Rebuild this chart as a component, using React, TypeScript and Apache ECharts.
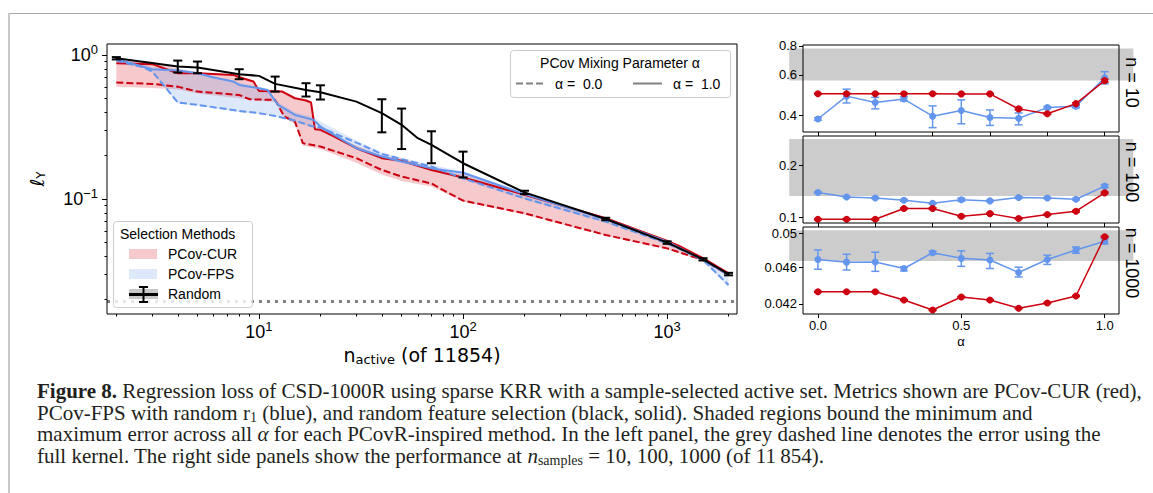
import React, { useEffect, useRef } from "react";
import * as echarts from "echarts";

const FONT = '"Liberation Sans", Arial, sans-serif';
const SERIF = '"Liberation Serif", "Times New Roman", serif';
const RED = "#cc0010";
const BLUE = "#6495ed";
const RED_BAND = "rgba(220,40,50,0.25)";
const BLUE_BAND = "rgba(100,149,237,0.22)";

// ---------- left panel data (n_active vs loss) ----------
const X_MAJOR = [10, 100, 1000];
const X_MINOR = [2, 3, 4, 5, 6, 7, 8, 9, 20, 30, 40, 50, 60, 70, 80, 90, 200, 300, 400, 500, 600, 700, 800, 900, 2000];
const Y_MAJOR = [0.1, 1];
const Y_MINOR = [0.02, 0.03, 0.04, 0.05, 0.06, 0.07, 0.08, 0.09, 0.2, 0.3, 0.4, 0.5, 0.6, 0.7, 0.8, 0.9];
const FULL_KERNEL = 0.0194;

const RANDOM_LINE: number[][] = [
  [2, 0.948], [4, 0.83], [5, 0.816], [8, 0.734], [10, 0.715], [12, 0.629], [17, 0.571], [20, 0.551],
  [30, 0.474], [40, 0.394], [50, 0.327], [60, 0.264], [70, 0.237], [100, 0.177], [200, 0.111],
  [500, 0.0726], [1000, 0.0498], [1500, 0.0381], [2000, 0.0301],
];
const RANDOM_ERR: number[][] = [
  [2, 0.93, 0.965], [4, 0.754, 0.913], [5, 0.746, 0.899], [8, 0.678, 0.795], [12, 0.556, 0.707],
  [17, 0.514, 0.636], [20, 0.49, 0.615], [40, 0.29, 0.492], [50, 0.222, 0.424], [70, 0.177, 0.295],
  [100, 0.141, 0.213], [200, 0.108, 0.114], [500, 0.0712, 0.074], [1000, 0.0488, 0.0508],
  [1500, 0.0374, 0.0388], [2000, 0.0295, 0.0307],
];
const CUR_A1: number[][] = [
  [2, 0.875], [3, 0.862], [4, 0.746], [5, 0.746], [7.5, 0.726], [8, 0.7], [9.4, 0.653], [10, 0.562],
  [13, 0.556], [15, 0.5], [17, 0.482], [18, 0.467], [18.8, 0.305], [20, 0.302], [23, 0.274], [30, 0.225],
  [40, 0.192], [50, 0.184], [70, 0.159], [100, 0.141], [200, 0.107], [500, 0.0734], [1000, 0.0512],
  [1150, 0.047], [1500, 0.0388], [2000, 0.0305],
];
const CUR_A0: number[][] = [
  [2, 0.642], [3, 0.629], [4, 0.602], [5, 0.556], [8, 0.527], [9, 0.492], [12, 0.487], [13.3, 0.373],
  [15, 0.344], [16.4, 0.244], [20, 0.231], [30, 0.192], [40, 0.159], [50, 0.143], [70, 0.128],
  [80, 0.115], [100, 0.0974], [200, 0.0795], [500, 0.0562], [1000, 0.0454], [1500, 0.0377], [2000, 0.0297],
];
const CUR_MAX: number[][] = [
  [2, 0.91], [3, 0.9], [4, 0.8], [5, 0.76], [8, 0.72], [9.4, 0.66], [10, 0.58], [13, 0.565], [15, 0.51],
  [17, 0.49], [18, 0.475], [18.8, 0.31], [20, 0.305], [30, 0.235], [40, 0.2], [50, 0.19], [70, 0.165],
  [100, 0.148], [200, 0.109], [500, 0.0745], [1000, 0.0522], [1150, 0.048], [1500, 0.0392], [2000, 0.031],
];
const CUR_MIN: number[][] = [
  [2, 0.6], [3, 0.59], [4, 0.575], [5, 0.54], [8, 0.5], [10, 0.48], [12, 0.47], [13.3, 0.37], [15, 0.33],
  [16.4, 0.235], [20, 0.222], [30, 0.178], [40, 0.148], [50, 0.133], [70, 0.122], [100, 0.096],
  [200, 0.078], [500, 0.0555], [1000, 0.0447], [1500, 0.037], [2000, 0.029],
];
const FPS_A1: number[][] = [
  [2, 0.933], [3, 0.795], [4, 0.778], [5, 0.746], [6, 0.696], [7.5, 0.653], [8, 0.619], [10, 0.587],
  [11, 0.571], [12.4, 0.45], [15, 0.383], [18.5, 0.354], [20, 0.318], [30, 0.225], [40, 0.197],
  [50, 0.182], [70, 0.163], [100, 0.152], [200, 0.108], [500, 0.0723], [1000, 0.0505], [1500, 0.0377], [2000, 0.0297],
];
const FPS_A0: number[][] = [
  [2, 0.913], [2.7, 0.821], [3, 0.766], [3.4, 0.619], [4, 0.467], [5, 0.45], [8, 0.408], [10, 0.394],
  [12, 0.377], [15, 0.35], [18, 0.321], [20, 0.313], [30, 0.246], [40, 0.205], [50, 0.189], [70, 0.168],
  [100, 0.139], [200, 0.101], [500, 0.0697], [1000, 0.0492], [1500, 0.0377], [2000, 0.0253],
];
const FPS_MAX: number[][] = [
  [2, 0.95], [3, 0.82], [4, 0.8], [5, 0.76], [8, 0.64], [10, 0.6], [11, 0.58], [12.4, 0.47], [15, 0.4],
  [18.5, 0.37], [20, 0.345], [30, 0.255], [40, 0.21], [50, 0.193], [70, 0.172], [100, 0.155],
  [200, 0.111], [500, 0.0735], [1000, 0.051], [1500, 0.0385], [2000, 0.031],
];
const FPS_MIN: number[][] = [
  [2, 0.9], [2.7, 0.81], [3, 0.76], [3.4, 0.61], [4, 0.46], [5, 0.445], [8, 0.4], [10, 0.39], [12, 0.372],
  [15, 0.345], [18, 0.315], [20, 0.305], [30, 0.22], [40, 0.19], [50, 0.178], [70, 0.158], [100, 0.136],
  [200, 0.099], [500, 0.068], [1000, 0.048], [1500, 0.037], [2000, 0.0245],
];

// ---------- right panels data (alpha) ----------
const ALPHAS = [0, 0.1, 0.2, 0.3, 0.4, 0.5, 0.6, 0.7, 0.8, 0.9, 1.0];
const ALPHA_TICKS_FINE = [0, 0.2, 0.4, 0.6, 0.8, 1.0];
const ALPHA_TICKS = [0, 0.5, 1.0];
const BAND_X = [-0.1, 1.1];

const CUR_N10 = [0.497, 0.497, 0.497, 0.497, 0.497, 0.496, 0.496, 0.427, 0.407, 0.45, 0.566];
const CUR_N10_ERR = [0.002, 0.002, 0.002, 0.002, 0.002, 0.002, 0.002, 0.004, 0.003, 0.004, 0.008];
const FPS_N10 = [0.386, 0.485, 0.455, 0.471, 0.397, 0.42, 0.392, 0.389, 0.4325, 0.438, 0.583];
const FPS_N10_LO = [0.381, 0.453, 0.427, 0.462, 0.354, 0.368, 0.362, 0.364, 0.428, 0.432, 0.548];
const FPS_N10_HI = [0.391, 0.52, 0.479, 0.482, 0.44, 0.467, 0.4225, 0.41, 0.437, 0.444, 0.619];
const RANDOM_N10 = [0.567, 0.78];
const TICKS_N10 = [0.4, 0.6, 0.8];

const CUR_N100 = [0.097, 0.097, 0.097, 0.112, 0.112, 0.101, 0.1046, 0.098, 0.1033, 0.108, 0.138];
const CUR_N100_ERR = [0.0008, 0.0008, 0.0008, 0.0008, 0.0012, 0.0008, 0.0008, 0.0008, 0.0008, 0.0012, 0.0015];
const FPS_N100 = [0.1387, 0.1307, 0.129, 0.125, 0.12, 0.126, 0.124, 0.1297, 0.129, 0.1268, 0.151];
const FPS_N100_ERR = [0.001, 0.001, 0.001, 0.0015, 0.001, 0.0025, 0.001, 0.0015, 0.001, 0.0012, 0.003];
const RANDOM_N100 = [0.1325, 0.283];
const TICKS_N100 = [0.1, 0.2];

const CUR_N1000 = [0.04328, 0.04328, 0.04328, 0.0424, 0.04137, 0.04272, 0.0424, 0.04155, 0.0421, 0.04283, 0.04961];
const CUR_N1000_ERR = [0.00005, 0.00005, 0.00005, 0.00005, 0.00005, 0.00005, 0.00005, 0.00005, 0.00005, 0.00005, 0.00005];
const FPS_N1000 = [0.04688, 0.04658, 0.0466, 0.04585, 0.04768, 0.04702, 0.04683, 0.0454, 0.04688, 0.04801, 0.04906];
const FPS_N1000_LO = [0.04577, 0.04568, 0.04553, 0.04558, 0.0475, 0.0461, 0.04585, 0.0449, 0.04632, 0.04762, 0.04873];
const FPS_N1000_HI = [0.04801, 0.0475, 0.04774, 0.04603, 0.04788, 0.0479, 0.0476, 0.046, 0.04739, 0.04836, 0.04937];
const RANDOM_N1000 = [0.04671, 0.0504];
const TICKS_N1000 = [0.042, 0.046, 0.05];

const PANEL_LABELS = ["n = 10", "n = 100", "n = 1000"];

// ---------- helpers ----------
const pairs = (xs: number[], ys: number[]) => xs.map((x, i) => [x, ys[i]]);
const errTriples = (xs: number[], lo: number[], hi: number[]) => xs.map((x, i) => [x, lo[i], hi[i]]);
const symErr = (xs: number[], v: number[], e: number[]) => xs.map((x, i) => [x, v[i] - e[i], v[i] + e[i]]);

const pow10Label = (v: number) => {
  const e = Math.round(Math.log10(v));
  return `{b|10}{s|${e < 0 ? "\u2212" + -e : e}}`;
};
const powRich = {
  b: { fontSize: 18, fontFamily: FONT, color: "#000" },
  s: { fontSize: 13, fontFamily: FONT, color: "#000", padding: [0, 0, 11, 0] },
};

// axis index of each right panel (axes 0 and 1 belong to the left panel)
const AX = (panel: number) => panel + 1;

function bandSeries(upper: number[][], lower: number[][], fill: string, z: number) {
  return {
    type: "custom",
    xAxisIndex: 0,
    yAxisIndex: 0,
    z,
    silent: true,
    clip: true,
    data: upper,
    encode: { x: 0, y: 1 },
    renderItem: (params: any, api: any) => {
      if (params.dataIndex !== 0) return { type: "group", children: [] };
      const pts = upper.map((p) => api.coord(p)).concat(lower.slice().reverse().map((p) => api.coord(p)));
      return { type: "polygon", shape: { points: pts }, style: { fill } };
    },
  };
}

function errSeries(data: number[][], color: string, idx: number, cap: number, lw: number, z: number) {
  return {
    type: "custom",
    xAxisIndex: idx,
    yAxisIndex: idx,
    z,
    silent: true,
    data,
    encode: { x: 0, y: [1, 2] },
    renderItem: (_p: any, api: any) => {
      const x = api.value(0);
      const a = api.coord([x, api.value(1)]);
      const b = api.coord([x, api.value(2)]);
      const st = { stroke: color, lineWidth: lw };
      return {
        type: "group",
        children: [
          { type: "line", shape: { x1: a[0], y1: a[1], x2: b[0], y2: b[1] }, style: st },
          { type: "line", shape: { x1: a[0] - cap, y1: a[1], x2: a[0] + cap, y2: a[1] }, style: st },
          { type: "line", shape: { x1: b[0] - cap, y1: b[1], x2: b[0] + cap, y2: b[1] }, style: st },
        ],
      };
    },
  };
}

function leftLine(data: number[][], color: string, dashed: boolean, z: number) {
  return {
    type: "line",
    xAxisIndex: 0,
    yAxisIndex: 0,
    data,
    symbol: "none",
    showSymbol: false,
    silent: true,
    clip: true,
    z,
    lineStyle: { color, width: 2, type: dashed ? [7, 3] : "solid" },
  };
}

function grayBand(idx: number, band: number[]) {
  return {
    type: "custom",
    xAxisIndex: idx,
    yAxisIndex: idx,
    z: 1,
    silent: true,
    data: [[BAND_X[0], band[0], BAND_X[1], band[1]]],
    encode: { x: [0, 2], y: [1, 3] },
    renderItem: (_p: any, api: any) => {
      const a = api.coord([api.value(0), api.value(3)]);
      const b = api.coord([api.value(2), api.value(1)]);
      return {
        type: "rect",
        shape: { x: a[0], y: a[1], width: b[0] - a[0], height: b[1] - a[1] },
        style: { fill: "#cccccc" },
      };
    },
  };
}

function rightLine(idx: number, ys: number[], color: string, z: number) {
  return {
    type: "line",
    xAxisIndex: idx,
    yAxisIndex: idx,
    data: pairs(ALPHAS, ys),
    symbol: "circle",
    symbolSize: 7,
    showSymbol: true,
    silent: true,
    z,
    itemStyle: { color },
    lineStyle: { color, width: 1.5 },
  };
}

const gridBase = { show: true, borderColor: "#000", borderWidth: 1, backgroundColor: "transparent", z: 5 };

function rightX(gridIndex: number, ticks: number[], showLabels: boolean) {
  return {
    type: "value",
    gridIndex,
    position: "bottom",
    min: -0.052,
    max: 1.05,
    z: 6,
    axisLine: { show: false, onZero: false },
    splitLine: { show: false },
    axisTick: { show: true, customValues: ticks, length: 4, lineStyle: { color: "#000" } },
    axisLabel: {
      show: showLabels,
      customValues: ticks,
      formatter: (v: number) => v.toFixed(1),
      fontSize: 13,
      fontFamily: FONT,
      color: "#000",
      margin: 5,
    },
    name: showLabels ? "α" : "",
    nameLocation: "middle",
    nameGap: 21,
    nameTextStyle: { fontSize: 13, fontFamily: FONT, color: "#000" },
  };
}

function rightY(gridIndex: number, min: number, max: number, ticks: number[]) {
  return {
    type: "log",
    logBase: 10,
    gridIndex,
    position: "left",
    min,
    max,
    z: 6,
    axisLine: { show: false, onZero: false },
    splitLine: { show: false },
    axisTick: { show: true, customValues: ticks, length: 4, lineStyle: { color: "#000" } },
    axisLabel: {
      customValues: ticks,
      formatter: (v: number) => String(v),
      fontSize: 13,
      fontFamily: FONT,
      color: "#000",
      margin: 6,
    },
  };
}

function buildOption() {
  const legend1 = [
    { type: "rect", z: 100, shape: { x: 113.5, y: 221.5, width: 139, height: 86, r: 3 }, style: { fill: "rgba(255,255,255,0.8)", stroke: "#cccccc", lineWidth: 1 } },
    { type: "text", z: 101, x: 120, y: 234, style: { text: "Selection Methods", font: `14px ${FONT}`, fill: "#000", verticalAlign: "middle" } },
    { type: "rect", z: 101, shape: { x: 129, y: 249, width: 28, height: 10 }, style: { fill: RED_BAND } },
    { type: "text", z: 101, x: 168, y: 254, style: { text: "PCov-CUR", font: `14px ${FONT}`, fill: "#000", verticalAlign: "middle" } },
    { type: "rect", z: 101, shape: { x: 129, y: 269, width: 28, height: 10 }, style: { fill: BLUE_BAND } },
    { type: "text", z: 101, x: 168, y: 274, style: { text: "PCov-FPS", font: `14px ${FONT}`, fill: "#000", verticalAlign: "middle" } },
    { type: "rect", z: 101, shape: { x: 129, y: 289, width: 29, height: 10 }, style: { fill: "#c8c8c8" } },
    { type: "line", z: 102, shape: { x1: 129, y1: 294.5, x2: 158, y2: 294.5 }, style: { stroke: "#000", lineWidth: 3 } },
    { type: "line", z: 102, shape: { x1: 143.5, y1: 287, x2: 143.5, y2: 302 }, style: { stroke: "#000", lineWidth: 2 } },
    { type: "line", z: 102, shape: { x1: 139, y1: 287, x2: 148, y2: 287 }, style: { stroke: "#000", lineWidth: 2 } },
    { type: "line", z: 102, shape: { x1: 139, y1: 302, x2: 148, y2: 302 }, style: { stroke: "#000", lineWidth: 2 } },
    { type: "text", z: 101, x: 168, y: 294, style: { text: "Random", font: `14px ${FONT}`, fill: "#000", verticalAlign: "middle" } },
  ];
  const legend2 = [
    { type: "rect", z: 100, shape: { x: 510.5, y: 50.5, width: 220, height: 47, r: 3 }, style: { fill: "rgba(255,255,255,0.8)", stroke: "#cccccc", lineWidth: 1 } },
    { type: "text", z: 101, x: 620, y: 63, style: { text: "PCov Mixing Parameter α", font: `14px ${FONT}`, fill: "#000", align: "center", verticalAlign: "middle" } },
    { type: "line", z: 101, shape: { x1: 516, y1: 83.5, x2: 544, y2: 83.5 }, style: { stroke: "#808080", lineWidth: 2, lineDash: [7, 3] } },
    { type: "text", z: 101, x: 555, y: 83.5, style: { text: "α = \u00a00.0", font: `14px ${FONT}`, fill: "#000", verticalAlign: "middle" } },
    { type: "line", z: 101, shape: { x1: 633, y1: 83.5, x2: 662, y2: 83.5 }, style: { stroke: "#808080", lineWidth: 2 } },
    { type: "text", z: 101, x: 673, y: 83.5, style: { text: "α = \u00a01.0", font: `14px ${FONT}`, fill: "#000", verticalAlign: "middle" } },
  ];
  const panelY = [82.5, 172, 263];
  const panelLabels = PANEL_LABELS.map((t, i) => ({
    type: "text",
    z: 101,
    x: 1132,
    y: panelY[i],
    rotation: -Math.PI / 2,
    style: { text: t, font: `18px ${FONT}`, fill: "#000", align: "center", verticalAlign: "middle" },
  }));
  const capRich = {
    b: { fontWeight: "bold", fontSize: 21, fontFamily: SERIF, color: "#231f20" },
    i: { fontStyle: "italic", fontSize: 21, fontFamily: SERIF, color: "#231f20" },
    sub: { fontSize: 14, fontFamily: SERIF, color: "#231f20", padding: [9, 0, 0, 0] },
  };
  const capLines = [
    "{b|Figure 8.} Regression loss of CSD-1000R using sparse KRR with a sample-selected active set. Metrics shown are PCov-CUR (red),",
    "PCov-FPS with random r{sub|1} (blue), and random feature selection (black, solid). Shaded regions bound the minimum and",
    "maximum error across all {i|α} for each PCovR-inspired method. In the left panel, the grey dashed line denotes the error using the",
    "full kernel. The right side panels show the performance at {i|n}{sub|samples} = 10, 100, 1000 (of 11\u2009854).",
  ];
  const caption = capLines.map((t, i) => ({
    type: "text",
    z: 101,
    x: 37,
    y: 391 + i * 21.7,
    style: { text: t, font: `21px ${SERIF}`, fill: "#231f20", verticalAlign: "middle", rich: capRich },
  }));
  const frame = [
    { type: "line", z: 101, shape: { x1: 8, y1: 13.5, x2: 1153, y2: 13.5 }, style: { stroke: "#a8a8a8", lineWidth: 1 } },
    { type: "line", z: 101, shape: { x1: 9, y1: 13, x2: 9, y2: 493 }, style: { stroke: "#c8c8c8", lineWidth: 2 } },
  ];

  return {
    animation: false,
    backgroundColor: "#fff",
    grid: [
      { ...gridBase, left: 107, top: 44, width: 630, height: 270 },
      { ...gridBase, left: 803, top: 45, width: 316, height: 87 },
      { ...gridBase, left: 803, top: 136, width: 316, height: 87 },
      { ...gridBase, left: 803, top: 227, width: 316, height: 87 },
    ],
    xAxis: [
      {
        type: "log",
        logBase: 10,
        gridIndex: 0,
        position: "bottom",
        min: 1.8,
        max: 2200,
        z: 6,
        axisLine: { show: false, onZero: false },
        splitLine: { show: false },
        axisTick: { show: true, customValues: X_MAJOR, length: 5, lineStyle: { color: "#000" } },
        axisLabel: { customValues: X_MAJOR, formatter: pow10Label, rich: powRich, margin: 6 },
        name: "{a|n}{s|active}{a| (of 11854)}",
        nameLocation: "middle",
        nameGap: 25,
        nameTextStyle: {
          rich: {
            a: { fontSize: 19, fontFamily: '"DejaVu Sans", sans-serif', color: "#000" },
            s: { fontSize: 13, fontFamily: '"DejaVu Sans", sans-serif', color: "#000", padding: [9, 0, 0, 0] },
          },
        },
      },
      {
        type: "log",
        logBase: 10,
        gridIndex: 0,
        position: "bottom",
        min: 1.8,
        max: 2200,
        z: 6,
        axisLine: { show: false, onZero: false },
        splitLine: { show: false },
        axisTick: { show: true, customValues: X_MINOR, length: 2.5, lineStyle: { color: "#000" } },
        axisLabel: { show: false },
      },
      rightX(1, ALPHA_TICKS_FINE, false),
      rightX(2, ALPHA_TICKS_FINE, false),
      rightX(3, ALPHA_TICKS, true),
    ],
    yAxis: [
      {
        type: "log",
        logBase: 10,
        gridIndex: 0,
        position: "left",
        min: 0.0159,
        max: 1.19,
        z: 6,
        axisLine: { show: false, onZero: false },
        splitLine: { show: false },
        axisTick: { show: true, customValues: Y_MAJOR, length: 5, lineStyle: { color: "#000" } },
        axisLabel: { customValues: Y_MAJOR, formatter: pow10Label, rich: powRich, margin: 9 },
        name: "{a|ℓ}{s|Y}",
        nameLocation: "middle",
        nameRotate: 90,
        nameGap: 60,
        nameTextStyle: {
          rich: {
            a: { fontSize: 19, fontFamily: '"DejaVu Sans", sans-serif', color: "#000" },
            s: { fontSize: 12, fontFamily: '"DejaVu Sans", sans-serif', color: "#000", padding: [8, 0, 0, 0] },
          },
        },
      },
      {
        type: "log",
        logBase: 10,
        gridIndex: 0,
        position: "left",
        min: 0.0159,
        max: 1.19,
        z: 6,
        axisLine: { show: false, onZero: false },
        splitLine: { show: false },
        axisTick: { show: true, customValues: Y_MINOR, length: 2.5, lineStyle: { color: "#000" } },
        axisLabel: { show: false },
      },
      rightY(1, 0.339, 0.808, TICKS_N10),
      rightY(2, 0.0923, 0.295, TICKS_N100),
      rightY(3, 0.04096, 0.05082, TICKS_N1000),
    ],
    series: [
      bandSeries(CUR_MAX, CUR_MIN, RED_BAND, 1),
      bandSeries(FPS_MAX, FPS_MIN, BLUE_BAND, 1),
      leftLine(CUR_A0, RED, true, 2),
      leftLine(CUR_A1, RED, false, 2),
      leftLine(FPS_A0, BLUE, true, 2),
      leftLine(FPS_A1, BLUE, false, 2),
      leftLine(RANDOM_LINE, "#000", false, 3),
      errSeries(RANDOM_ERR, "#000", 0, 4.5, 2, 3),
      {
        type: "line",
        xAxisIndex: 0,
        yAxisIndex: 0,
        data: [[1.8, FULL_KERNEL], [2200, FULL_KERNEL]],
        symbol: "none",
        silent: true,
        z: 3,
        lineStyle: { color: "#808080", width: 3, type: [3, 5], cap: "butt" },
      },
      // right panels
      grayBand(AX(1), RANDOM_N10),
      grayBand(AX(2), RANDOM_N100),
      grayBand(AX(3), RANDOM_N1000),
      errSeries(symErr(ALPHAS, CUR_N10, CUR_N10_ERR), RED, AX(1), 4, 1.5, 3),
      errSeries(errTriples(ALPHAS, FPS_N10_LO, FPS_N10_HI), BLUE, AX(1), 4, 1.5, 3),
      rightLine(AX(1), FPS_N10, BLUE, 3),
      rightLine(AX(1), CUR_N10, RED, 4),
      errSeries(symErr(ALPHAS, CUR_N100, CUR_N100_ERR), RED, AX(2), 4, 1.5, 3),
      errSeries(symErr(ALPHAS, FPS_N100, FPS_N100_ERR), BLUE, AX(2), 4, 1.5, 3),
      rightLine(AX(2), FPS_N100, BLUE, 3),
      rightLine(AX(2), CUR_N100, RED, 4),
      errSeries(symErr(ALPHAS, CUR_N1000, CUR_N1000_ERR), RED, AX(3), 4, 1.5, 3),
      errSeries(errTriples(ALPHAS, FPS_N1000_LO, FPS_N1000_HI), BLUE, AX(3), 4, 1.5, 3),
      rightLine(AX(3), FPS_N1000, BLUE, 3),
      rightLine(AX(3), CUR_N1000, RED, 4),
    ],
    graphic: [...frame, ...legend1, ...legend2, ...panelLabels, ...caption],
  };
}

export default function App() {
  const ref = useRef<HTMLDivElement>(null);
  useEffect(() => {
    document.body.style.margin = "0";
    const chart = echarts.init(ref.current as HTMLDivElement, undefined, { renderer: "svg" });
    chart.setOption(buildOption() as any);
    return () => chart.dispose();
  }, []);
  return <div ref={ref} style={{ width: 1153, height: 493 }} />;
}
